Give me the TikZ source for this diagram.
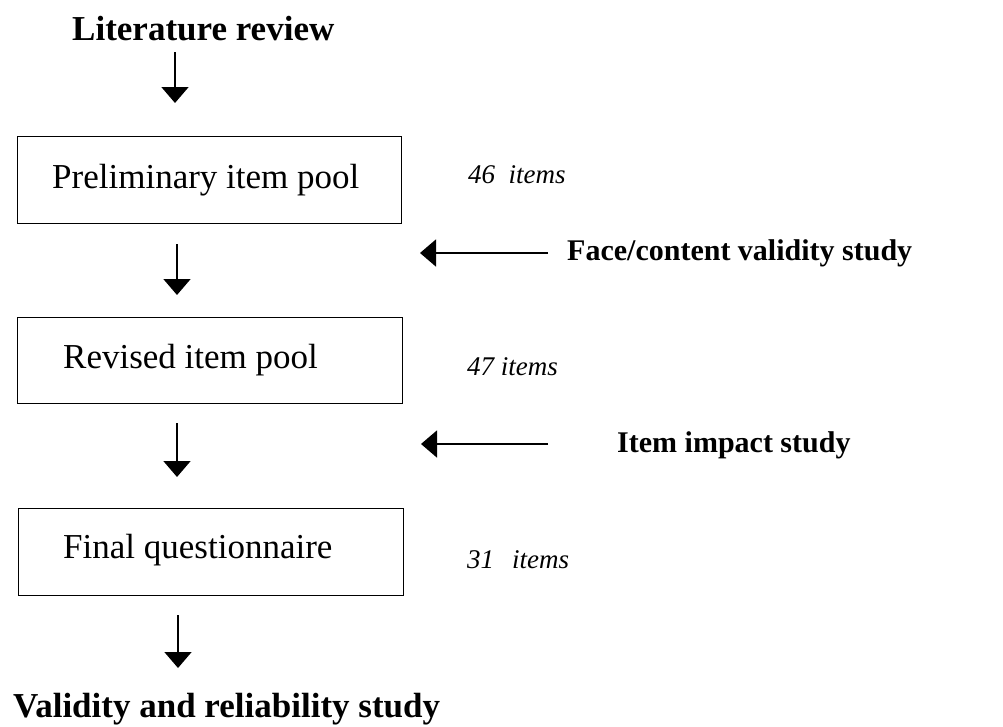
\documentclass[tikz,border=0pt]{standalone}
\usepackage{fontspec}
\setmainfont{Liberation Serif}
\usetikzlibrary{arrows.meta}
\tikzset{
  arr/.style={line width=1.7pt,-{Triangle[width=27pt,length=16pt]}},
  boxnode/.style={draw,line width=1.4pt,inner sep=0pt,anchor=north west},
  txt/.style={anchor=base west,inner sep=0pt,font=\fontsize{35}{40}\selectfont},
  btxt/.style={txt,font=\fontsize{35}{40}\selectfont\bfseries},
  rtxt/.style={txt,font=\fontsize{30}{36}\selectfont\bfseries},
  itxt/.style={txt,font=\fontsize{27}{32}\selectfont\itshape}
}
\begin{document}
\begin{tikzpicture}[x=1pt,y=-1pt]
\useasboundingbox (0,0) rectangle (1003,726);
% boxes
\node[boxnode,minimum width=384pt,minimum height=87pt] (b1) at (17,136) {};
\node[boxnode,minimum width=385pt,minimum height=86pt] (b2) at (17,317) {};
\node[boxnode,minimum width=385pt,minimum height=87pt] (b3) at (18,508) {};
% texts
\node[btxt] (lit) at (72,40) {Literature review};
\node[txt] (t1) at (52,188) {Preliminary item pool};
\node[txt] (t2) at (63,368) {Revised item pool};
\node[txt] (t3) at (63,558) {Final questionnaire};
\node[btxt] (val) at (13,717) {Validity and reliability study};
\node[itxt] (n1) at (468,183) {46\ \ items};
\node[itxt] (n2) at (467,375) {47 items};
\node[itxt] (n3) at (467,568) {31\hspace{18pt}items};
\node[rtxt] (face) at (567,260) {Face/content validity study};
\node[rtxt] (imp) at (617,452) {Item impact study};
% arrow end points
\coordinate (a1s) at (175,52);  \coordinate (a1e) at (175,103);
\coordinate (a2s) at (177,244); \coordinate (a2e) at (177,295);
\coordinate (a3s) at (177,423); \coordinate (a3e) at (177,477);
\coordinate (a4s) at (178,615); \coordinate (a4e) at (178,668);
\coordinate (h1s) at (548,253); \coordinate (h1e) at (420,253);
\coordinate (h2s) at (548,444); \coordinate (h2e) at (421,444);
\draw[arr] (a1s) -- (a1e);
\draw[arr] (a2s) -- (a2e);
\draw[arr] (a3s) -- (a3e);
\draw[arr] (a4s) -- (a4e);
\draw[arr] (h1s) -- (h1e);
\draw[arr] (h2s) -- (h2e);
\end{tikzpicture}
\end{document}
